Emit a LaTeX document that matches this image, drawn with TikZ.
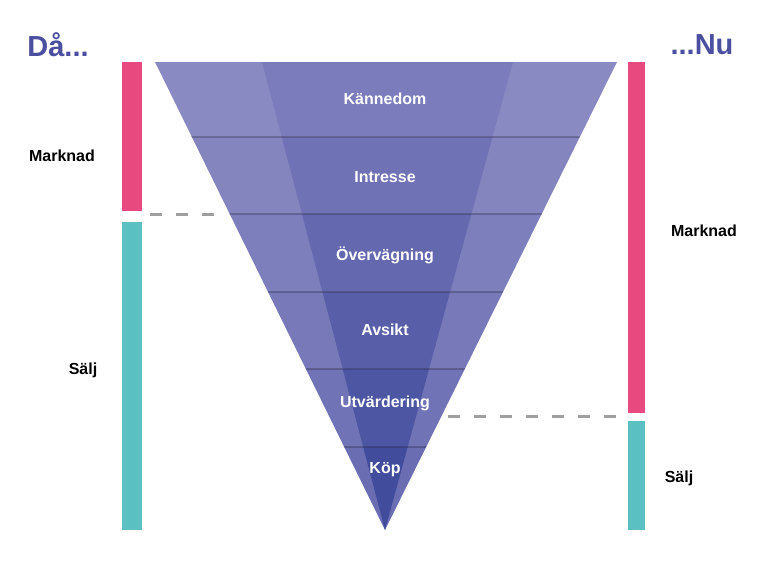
\documentclass[tikz,border=0pt]{standalone}
\usepackage{fontspec}
\setmainfont{Liberation Sans}
\begin{document}
\begin{tikzpicture}[x=1pt,y=-1pt,
  lbl/.style={font=\bfseries\fontsize{16}{18}\selectfont,text=black},
  flbl/.style={font=\bfseries\fontsize{16}{18}\selectfont,text=white},
  big/.style={font=\bfseries\fontsize{29}{32}\selectfont,text=titleblue},
  grayline/.style={draw=gray!75,line width=3pt,dash pattern=on 12pt off 14pt}]
\definecolor{titleblue}{HTML}{4A4FA0}
\definecolor{pinkb}{HTML}{E84A7F}
\definecolor{tealb}{HTML}{5BC0C2}
\definecolor{outA}{HTML}{8A8AC2}\definecolor{outB}{HTML}{6A6DB2}
\definecolor{inA}{HTML}{7B7CBB}\definecolor{inB}{HTML}{414C9C}
\useasboundingbox (0,0) rectangle (768,569);
% funnel bands
\def\ys{{62,137,214,292,369,447,530}}
\begin{scope}
\clip (155,62) -- (617,62) -- (385,530) -- cycle;
\foreach \i in {0,...,5}{
  \pgfmathsetmacro{\ya}{\ys[\i]}
  \pgfmathsetmacro{\yb}{\ys[\i+1]}
  \pgfmathsetmacro{\p}{100-\i*20}
  \colorlet{oc}{outA!\p!outB}
  \colorlet{ic}{inA!\p!inB}
  \fill[oc] (100,\ya) rectangle (680,\yb);
  \begin{scope}
    \clip (262,62) -- (513,62) -- (385,530) -- cycle;
    \fill[ic] (100,\ya) rectangle (680,\yb);
  \end{scope}
  \ifnum\i>0 \draw[black!60!oc,opacity=0.35,line width=1.5pt] (100,\ya) -- (680,\ya);\fi
}
\end{scope}
\node[flbl] (k1) at (385,99) {Kännedom};
\node[flbl] (k2) at (385,177) {Intresse};
\node[flbl] (k3) at (385,255) {Övervägning};
\node[flbl] (k4) at (385,330) {Avsikt};
\node[flbl] (k5) at (385,403) {Utvärdering};
\node[flbl] (k6) at (385,470) {Köp};
% bars
\fill[pinkb] (122,62) rectangle (142,211);
\fill[tealb] (122,222) rectangle (142,530);
\fill[pinkb] (628,62) rectangle (645,413);
\fill[tealb] (628,421) rectangle (645,530);
% dashed
\coordinate (l1) at (150,215); \coordinate (l2) at (226,215);
\coordinate (r1) at (448,416); \coordinate (r2) at (620,416);
\draw[grayline] (l1) -- (l2);
\draw[grayline] (r1) -- (r2);
% texts
\node[big] (da) at (58,45) {Då...};
\node[big] (nu) at (702,45) {...Nu};
\node[lbl] (m1) at (62,156) {Marknad};
\node[lbl] (s1) at (83,370) {Sälj};
\node[lbl] (m2) at (704,231) {Marknad};
\node[lbl] (s2) at (679,478) {Sälj};
\end{tikzpicture}
\end{document}
